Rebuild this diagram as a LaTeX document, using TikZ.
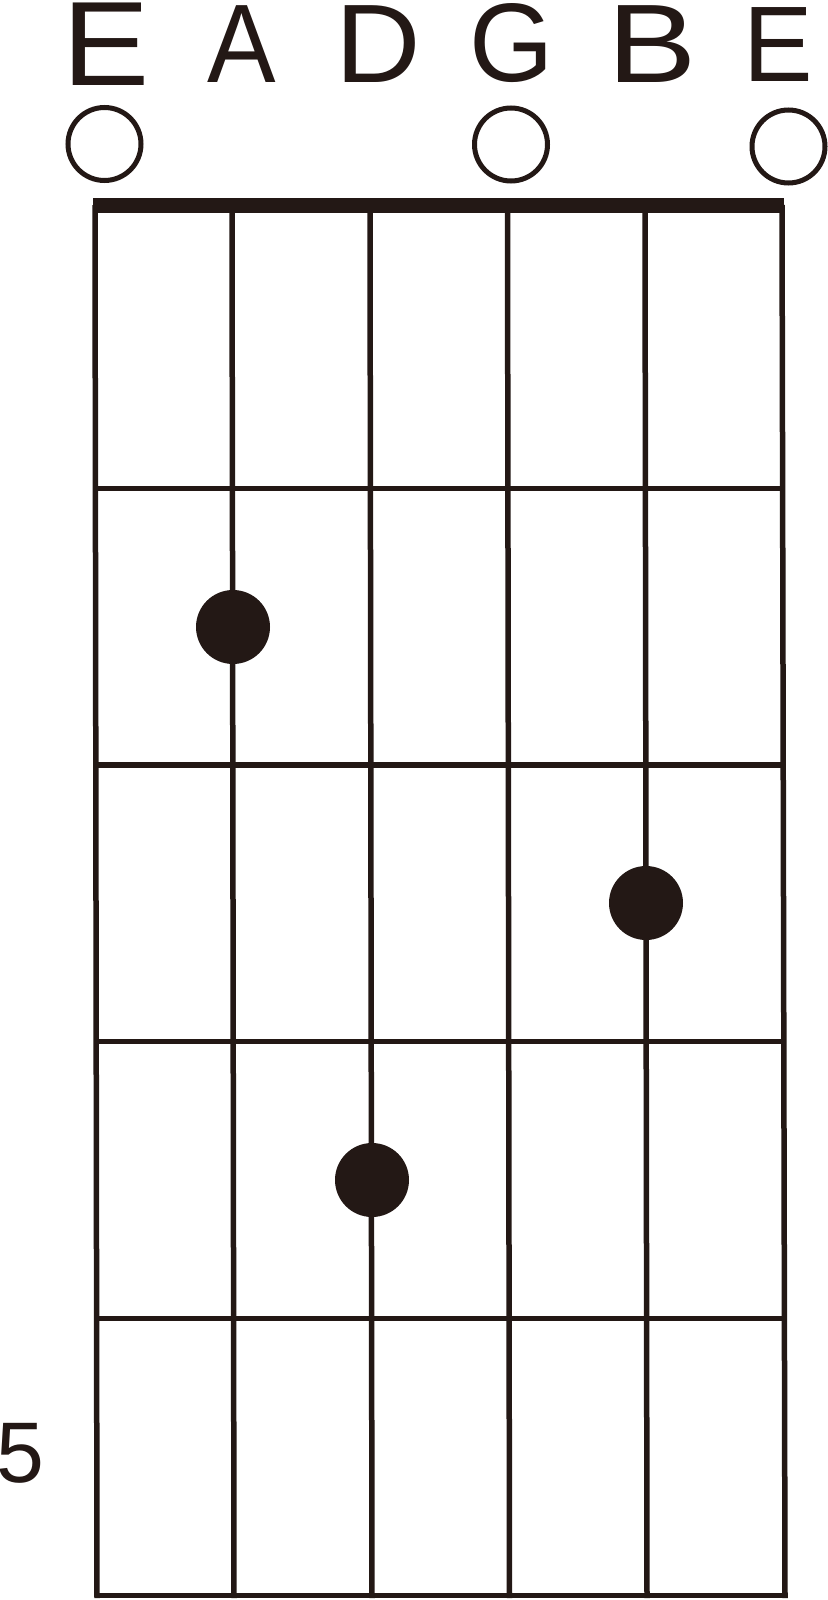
\documentclass[tikz,border=0pt]{standalone}
\usepackage{fontspec}
\setmainfont{Liberation Sans}
\usetikzlibrary{calc}
\definecolor{ink}{HTML}{231815}
\begin{document}
\begin{tikzpicture}[x=1pt,y=-1pt,
  stringline/.style={draw=ink, line width=5.5pt},
  fretline/.style={draw=ink, line width=5.5pt, line cap=square},
  nutbar/.style={fill=ink},
  fingerdot/.style={circle, fill=ink, minimum size=74pt, inner sep=0pt},
  opencircle/.style={circle, draw=ink, line width=5pt, minimum size=73pt, inner sep=0pt},
  letter/.style={text=ink, anchor=base, inner sep=0pt}]

\fill[white] (0,0) rectangle (827,1600);
\useasboundingbox (0,0) rectangle (827,1600);

% string end points
\coordinate (s1t) at (95,205);   \coordinate (s1b) at (97,1598);
\coordinate (s2t) at (232,205);  \coordinate (s2b) at (234,1598);
\coordinate (s3t) at (370,205);  \coordinate (s3b) at (372,1598);
\coordinate (s4t) at (507.5,205);\coordinate (s4b) at (509.5,1598);
\coordinate (s5t) at (645,205);  \coordinate (s5b) at (647,1598);
\coordinate (s6t) at (782,205);  \coordinate (s6b) at (785,1598);

% strings
\foreach \s in {1,...,6}
  \draw[stringline] (s\s t) -- (s\s b);

% frets
\foreach \y/\f in {488.3/1,765/2,1041.7/3,1318.5/4,1595.3/5}{
  \coordinate (f\f l) at ($(s1t)!{(\y-205)/1393}!(s1b)$);
  \coordinate (f\f r) at ($(s6t)!{(\y-205)/1393}!(s6b)$);
  \draw[fretline] (f\f l) -- (f\f r);
}

% nut
\fill[nutbar] (92.5,198) rectangle (783.5,213);

% open string circles
\node[opencircle] (o1) at (104.5,144) {};
\node[opencircle] (o4) at (511,144.5) {};
\node[opencircle] (o6) at (788.5,146.5) {};

% finger dots
\node[fingerdot] (d1) at (233,627) {};
\node[fingerdot] (d2) at (646,903) {};
\node[fingerdot] (d3) at (372,1180) {};

% string names
\node[letter, font=\fontsize{120}{120}\selectfont, xscale=1.09] (nE1) at (105.7,86) {E};
\node[letter, font=\fontsize{111.7}{112}\selectfont, xscale=0.92] (nA) at (241.5,83) {A};
\node[letter, font=\fontsize{111.7}{112}\selectfont, xscale=1.06] (nD) at (378.7,83) {D};
\node[letter, font=\fontsize{111.7}{112}\selectfont, xscale=0.97] (nG) at (511.9,82) {G};
\node[letter, font=\fontsize{111.7}{112}\selectfont, xscale=1.2] (nB) at (652,83) {B};
\node[letter, font=\fontsize{107.5}{108}\selectfont, xscale=0.97] (nE2) at (778.7,81.5) {E};

% fret number
\node[letter, font=\fontsize{86}{86}\selectfont] (fn) at (20.5,1482) {5};

\end{tikzpicture}
\end{document}
